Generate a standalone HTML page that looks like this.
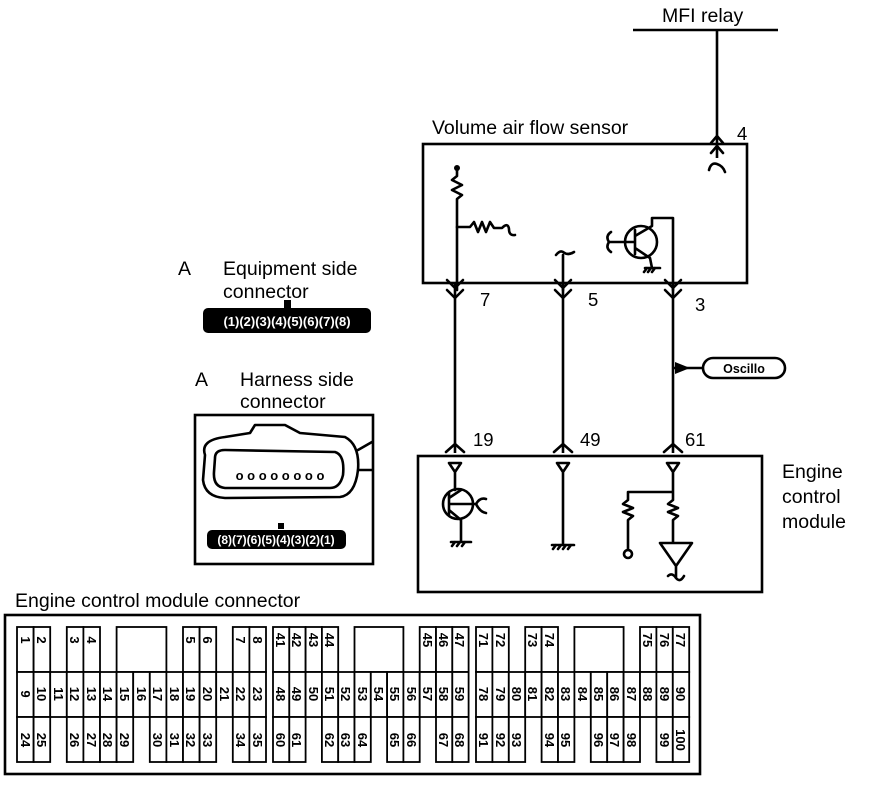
<!DOCTYPE html>
<html><head><meta charset="utf-8"><style>
html,body{margin:0;padding:0;background:#fff}
svg{display:block}
text{font-family:"Liberation Sans",Arial,sans-serif;fill:#000}
.n{font-size:13px;font-weight:bold}
.c{fill:#fff;stroke:#000;stroke-width:1.8}
.w{stroke:#000;stroke-width:2.6;fill:none}
.t{stroke:#000;stroke-width:2.6;fill:none;stroke-linecap:round;stroke-linejoin:round}
</style></head><body>
<svg width="880" height="790" viewBox="0 0 880 790" xmlns="http://www.w3.org/2000/svg">
<text x="662" y="22" font-size="19.5">MFI relay</text>
<line x1="633" y1="30" x2="778" y2="30" class="w" stroke-width="3"/>
<line x1="717" y1="30" x2="717" y2="158" class="w"/>
<path d="M711 143 L717 136 L723 143 M711 153 L717 146 L723 153 M709 170 Q711 162 717 164 Q723 166 725 172" class="t"/>
<text x="737" y="140" font-size="18.5">4</text>

<text x="432" y="134" font-size="19.5">Volume air flow sensor</text>
<rect x="423" y="144" width="324" height="139" class="w"/>
<circle cx="457" cy="168" r="3" fill="#000"/>
<path d="M457 170 L457 176 L452 180 L462 185 L452 190 L462 195 L457 199 L457 290" class="t"/>
<path d="M457 227 L470 227 L474 222 L478 232 L482 222 L486 232 L490 222 L494 228 L502 228 Q508 222 509 229 Q509 236 515 235" class="t"/>
<path d="M563 290 L563 255 M556 255 Q560 250 563 252 Q568 256 574 252" class="t"/>
<circle cx="641" cy="242" r="16" class="t"/>
<path d="M609 242 L635 242 M635 230 L635 254 M635 236 L652 226 L652 218 L673 218 L673 290 M635 248 L650 258 L652 268 M645 268 L660 268 M647 268 L644 272 M651 268 L648 272 M655 268 L652 272 M609 242 Q605 236 611 232 M609 242 Q605 248 611 252" class="t"/>
<path d="M447 280 L455 288 L463 280 M447 290 L455 298 L463 290" class="t"/>
<path d="M555 280 L563 288 L571 280 M555 290 L563 298 L571 290" class="t"/>
<path d="M665 290 L673 298 L681 290 M665 280 L673 288 L681 280" class="t"/>
<text x="480" y="306" font-size="18.5">7</text>
<text x="588" y="306" font-size="18.5">5</text>
<text x="695" y="311" font-size="18.5">3</text>
<line x1="455" y1="283" x2="455" y2="453" class="w"/>
<line x1="563" y1="283" x2="563" y2="453" class="w"/>
<line x1="673" y1="283" x2="673" y2="453" class="w"/>
<path d="M675 362 L690 368 L675 374 Z" fill="#000"/>
<line x1="673" y1="368" x2="703" y2="368" class="w"/>
<rect x="703" y="358" width="82" height="20" rx="10" class="w"/>
<text x="744" y="373" font-size="12.5" font-weight="bold" text-anchor="middle">Oscillo</text>
<path d="M446 452 L455 444 L464 452 M554 452 L563 444 L572 452 M664 452 L673 444 L682 452" class="t"/>
<text x="473" y="446" font-size="18.5">19</text>
<text x="580" y="446" font-size="18.5">49</text>
<text x="685" y="446" font-size="18.5">61</text>
<rect x="418" y="456" width="344" height="136" class="w"/>
<text x="782" y="478" font-size="19.5">Engine</text>
<text x="782" y="503" font-size="19.5">control</text>
<text x="782" y="528" font-size="19.5">module</text>
<path d="M449 463 L461 463 L455 472 Z M455 472 L455 490 M449 493 L449 515 M449 498 L461 490 M449 510 L461 520 L461 542 M451 542 L471 542 M455 542 L452 546 M460 542 L457 546 M465 542 L462 546 M449 504 L476 504 M476 504 Q480 497 486 499 M476 504 Q480 512 486 513" class="t"/>
<circle cx="458" cy="504" r="15" class="t"/>
<path d="M557 463 L569 463 L563 472 Z M563 472 L563 545 M552 545 L574 545 M556 545 L553 549 M561 545 L558 549 M566 545 L563 549 M571 545 L568 549" class="t"/>
<path d="M667 463 L679 463 L673 472 Z M673 472 L673 492 L628 492 L628 500 L623 504 L633 508 L623 512 L633 516 L628 520 L628 550 M673 492 L673 500 L668 504 L678 508 L668 512 L678 516 L673 520 L673 543 M660 543 L692 543 L676 566 Z M676 566 L676 578 Q672 572 668 576 M676 578 Q680 583 684 576" class="t"/>
<circle cx="628" cy="554" r="4" class="t"/>

<text x="178" y="275" font-size="19.5">A</text>
<text x="223" y="275" font-size="19.5">Equipment side</text>
<text x="223" y="298" font-size="19.5">connector</text>
<rect x="284" y="300" width="7" height="8" fill="#000"/>
<rect x="203" y="308" width="168" height="25" rx="5" fill="#000"/>
<text x="287" y="326" font-size="13" font-weight="bold" text-anchor="middle" style="fill:#fff">(1)(2)(3)(4)(5)(6)(7)(8)</text>

<text x="195" y="386" font-size="19.5">A</text>
<text x="240" y="386" font-size="19.5">Harness side</text>
<text x="240" y="408" font-size="19.5">connector</text>
<rect x="195" y="415" width="178" height="149" class="w"/>
<path d="M205 455 Q200 440 225 437 L250 433 L255 425 L285 425 L300 433 L345 437 Q360 445 358 470 Q355 495 340 497 L225 498 Q205 497 203 480 Z" class="t"/>
<path d="M215 458 Q215 450 225 450 L335 452 Q345 455 343 475 Q340 488 330 488 L225 488 Q213 487 214 472 Z" class="t"/>
<path d="M358 450 L372 442 M358 470 L372 470" class="t"/>
<text x="280" y="480" font-size="13" font-weight="bold" text-anchor="middle">o o o o o o o o</text>
<rect x="278" y="523" width="6" height="6" fill="#000"/>
<rect x="207" y="530" width="139" height="19" rx="5" fill="#000"/>
<text x="276" y="544" font-size="12" font-weight="bold" text-anchor="middle" style="fill:#fff">(8)(7)(6)(5)(4)(3)(2)(1)</text>

<text x="15" y="607" font-size="19.5">Engine control module connector</text>
<rect x="5" y="615" width="695" height="159" class="w" stroke-width="3"/>
<g class="n">
<rect class="c" x="17" y="627" width="16.6" height="45"/><text transform="translate(21,640) rotate(90)" text-anchor="middle">1</text>
<rect class="c" x="33.6" y="627" width="16.6" height="45"/><text transform="translate(37,640) rotate(90)" text-anchor="middle">2</text>
<rect class="c" x="66.8" y="627" width="16.6" height="45"/><text transform="translate(70,640) rotate(90)" text-anchor="middle">3</text>
<rect class="c" x="83.4" y="627" width="16.6" height="45"/><text transform="translate(87,640) rotate(90)" text-anchor="middle">4</text>
<rect class="c" x="116.6" y="627" width="49.8" height="45"/>
<rect class="c" x="183" y="627" width="16.6" height="45"/><text transform="translate(186,640) rotate(90)" text-anchor="middle">5</text>
<rect class="c" x="199.6" y="627" width="16.6" height="45"/><text transform="translate(203,640) rotate(90)" text-anchor="middle">6</text>
<rect class="c" x="232.8" y="627" width="16.6" height="45"/><text transform="translate(236,640) rotate(90)" text-anchor="middle">7</text>
<rect class="c" x="249.4" y="627" width="16.6" height="45"/><text transform="translate(253,640) rotate(90)" text-anchor="middle">8</text>
<rect class="c" x="17" y="672" width="16.6" height="45"/><text transform="translate(21,694) rotate(90)" text-anchor="middle">9</text>
<rect class="c" x="33.6" y="672" width="16.6" height="45"/><text transform="translate(37,694) rotate(90)" text-anchor="middle">10</text>
<rect class="c" x="50.2" y="672" width="16.6" height="45"/><text transform="translate(54,694) rotate(90)" text-anchor="middle">11</text>
<rect class="c" x="66.8" y="672" width="16.6" height="45"/><text transform="translate(70,694) rotate(90)" text-anchor="middle">12</text>
<rect class="c" x="83.4" y="672" width="16.6" height="45"/><text transform="translate(87,694) rotate(90)" text-anchor="middle">13</text>
<rect class="c" x="100" y="672" width="16.6" height="45"/><text transform="translate(103,694) rotate(90)" text-anchor="middle">14</text>
<rect class="c" x="116.6" y="672" width="16.6" height="45"/><text transform="translate(120,694) rotate(90)" text-anchor="middle">15</text>
<rect class="c" x="133.2" y="672" width="16.6" height="45"/><text transform="translate(137,694) rotate(90)" text-anchor="middle">16</text>
<rect class="c" x="149.8" y="672" width="16.6" height="45"/><text transform="translate(153,694) rotate(90)" text-anchor="middle">17</text>
<rect class="c" x="166.4" y="672" width="16.6" height="45"/><text transform="translate(170,694) rotate(90)" text-anchor="middle">18</text>
<rect class="c" x="183" y="672" width="16.6" height="45"/><text transform="translate(186,694) rotate(90)" text-anchor="middle">19</text>
<rect class="c" x="199.6" y="672" width="16.6" height="45"/><text transform="translate(203,694) rotate(90)" text-anchor="middle">20</text>
<rect class="c" x="216.2" y="672" width="16.6" height="45"/><text transform="translate(220,694) rotate(90)" text-anchor="middle">21</text>
<rect class="c" x="232.8" y="672" width="16.6" height="45"/><text transform="translate(236,694) rotate(90)" text-anchor="middle">22</text>
<rect class="c" x="249.4" y="672" width="16.6" height="45"/><text transform="translate(253,694) rotate(90)" text-anchor="middle">23</text>
<rect class="c" x="17" y="717" width="16.6" height="45"/><text transform="translate(21,740) rotate(90)" text-anchor="middle">24</text>
<rect class="c" x="33.6" y="717" width="16.6" height="45"/><text transform="translate(37,740) rotate(90)" text-anchor="middle">25</text>
<rect class="c" x="66.8" y="717" width="16.6" height="45"/><text transform="translate(70,740) rotate(90)" text-anchor="middle">26</text>
<rect class="c" x="83.4" y="717" width="16.6" height="45"/><text transform="translate(87,740) rotate(90)" text-anchor="middle">27</text>
<rect class="c" x="100" y="717" width="16.6" height="45"/><text transform="translate(103,740) rotate(90)" text-anchor="middle">28</text>
<rect class="c" x="116.6" y="717" width="16.6" height="45"/><text transform="translate(120,740) rotate(90)" text-anchor="middle">29</text>
<rect class="c" x="149.8" y="717" width="16.6" height="45"/><text transform="translate(153,740) rotate(90)" text-anchor="middle">30</text>
<rect class="c" x="166.4" y="717" width="16.6" height="45"/><text transform="translate(170,740) rotate(90)" text-anchor="middle">31</text>
<rect class="c" x="183" y="717" width="16.6" height="45"/><text transform="translate(186,740) rotate(90)" text-anchor="middle">32</text>
<rect class="c" x="199.6" y="717" width="16.6" height="45"/><text transform="translate(203,740) rotate(90)" text-anchor="middle">33</text>
<rect class="c" x="232.8" y="717" width="16.6" height="45"/><text transform="translate(236,740) rotate(90)" text-anchor="middle">34</text>
<rect class="c" x="249.4" y="717" width="16.6" height="45"/><text transform="translate(253,740) rotate(90)" text-anchor="middle">35</text>

<rect class="c" x="273" y="627" width="16.3" height="45"/><text transform="translate(276,640) rotate(90)" text-anchor="middle">41</text>
<rect class="c" x="289.3" y="627" width="16.3" height="45"/><text transform="translate(292,640) rotate(90)" text-anchor="middle">42</text>
<rect class="c" x="305.6" y="627" width="16.3" height="45"/><text transform="translate(309,640) rotate(90)" text-anchor="middle">43</text>
<rect class="c" x="321.9" y="627" width="16.3" height="45"/><text transform="translate(325,640) rotate(90)" text-anchor="middle">44</text>
<rect class="c" x="354.5" y="627" width="48.9" height="45"/>
<rect class="c" x="419.7" y="627" width="16.3" height="45"/><text transform="translate(423,640) rotate(90)" text-anchor="middle">45</text>
<rect class="c" x="436" y="627" width="16.3" height="45"/><text transform="translate(439,640) rotate(90)" text-anchor="middle">46</text>
<rect class="c" x="452.3" y="627" width="16.3" height="45"/><text transform="translate(455,640) rotate(90)" text-anchor="middle">47</text>
<rect class="c" x="273" y="672" width="16.3" height="45"/><text transform="translate(276,694) rotate(90)" text-anchor="middle">48</text>
<rect class="c" x="289.3" y="672" width="16.3" height="45"/><text transform="translate(292,694) rotate(90)" text-anchor="middle">49</text>
<rect class="c" x="305.6" y="672" width="16.3" height="45"/><text transform="translate(309,694) rotate(90)" text-anchor="middle">50</text>
<rect class="c" x="321.9" y="672" width="16.3" height="45"/><text transform="translate(325,694) rotate(90)" text-anchor="middle">51</text>
<rect class="c" x="338.2" y="672" width="16.3" height="45"/><text transform="translate(341,694) rotate(90)" text-anchor="middle">52</text>
<rect class="c" x="354.5" y="672" width="16.3" height="45"/><text transform="translate(358,694) rotate(90)" text-anchor="middle">53</text>
<rect class="c" x="370.8" y="672" width="16.3" height="45"/><text transform="translate(374,694) rotate(90)" text-anchor="middle">54</text>
<rect class="c" x="387.1" y="672" width="16.3" height="45"/><text transform="translate(390,694) rotate(90)" text-anchor="middle">55</text>
<rect class="c" x="403.4" y="672" width="16.3" height="45"/><text transform="translate(407,694) rotate(90)" text-anchor="middle">56</text>
<rect class="c" x="419.7" y="672" width="16.3" height="45"/><text transform="translate(423,694) rotate(90)" text-anchor="middle">57</text>
<rect class="c" x="436" y="672" width="16.3" height="45"/><text transform="translate(439,694) rotate(90)" text-anchor="middle">58</text>
<rect class="c" x="452.3" y="672" width="16.3" height="45"/><text transform="translate(455,694) rotate(90)" text-anchor="middle">59</text>
<rect class="c" x="273" y="717" width="16.3" height="45"/><text transform="translate(276,740) rotate(90)" text-anchor="middle">60</text>
<rect class="c" x="289.3" y="717" width="16.3" height="45"/><text transform="translate(292,740) rotate(90)" text-anchor="middle">61</text>
<rect class="c" x="321.9" y="717" width="16.3" height="45"/><text transform="translate(325,740) rotate(90)" text-anchor="middle">62</text>
<rect class="c" x="338.2" y="717" width="16.3" height="45"/><text transform="translate(341,740) rotate(90)" text-anchor="middle">63</text>
<rect class="c" x="354.5" y="717" width="16.3" height="45"/><text transform="translate(358,740) rotate(90)" text-anchor="middle">64</text>
<rect class="c" x="387.1" y="717" width="16.3" height="45"/><text transform="translate(390,740) rotate(90)" text-anchor="middle">65</text>
<rect class="c" x="403.4" y="717" width="16.3" height="45"/><text transform="translate(407,740) rotate(90)" text-anchor="middle">66</text>
<rect class="c" x="436" y="717" width="16.3" height="45"/><text transform="translate(439,740) rotate(90)" text-anchor="middle">67</text>
<rect class="c" x="452.3" y="717" width="16.3" height="45"/><text transform="translate(455,740) rotate(90)" text-anchor="middle">68</text>

<rect class="c" x="476" y="627" width="16.4" height="45"/><text transform="translate(479,640) rotate(90)" text-anchor="middle">71</text>
<rect class="c" x="492.4" y="627" width="16.4" height="45"/><text transform="translate(496,640) rotate(90)" text-anchor="middle">72</text>
<rect class="c" x="525.2" y="627" width="16.4" height="45"/><text transform="translate(528,640) rotate(90)" text-anchor="middle">73</text>
<rect class="c" x="541.6" y="627" width="16.4" height="45"/><text transform="translate(545,640) rotate(90)" text-anchor="middle">74</text>
<rect class="c" x="574.4" y="627" width="49.2" height="45"/>
<rect class="c" x="640" y="627" width="16.4" height="45"/><text transform="translate(643,640) rotate(90)" text-anchor="middle">75</text>
<rect class="c" x="656.4" y="627" width="16.4" height="45"/><text transform="translate(660,640) rotate(90)" text-anchor="middle">76</text>
<rect class="c" x="672.8" y="627" width="16.4" height="45"/><text transform="translate(676,640) rotate(90)" text-anchor="middle">77</text>
<rect class="c" x="476" y="672" width="16.4" height="45"/><text transform="translate(479,694) rotate(90)" text-anchor="middle">78</text>
<rect class="c" x="492.4" y="672" width="16.4" height="45"/><text transform="translate(496,694) rotate(90)" text-anchor="middle">79</text>
<rect class="c" x="508.8" y="672" width="16.4" height="45"/><text transform="translate(512,694) rotate(90)" text-anchor="middle">80</text>
<rect class="c" x="525.2" y="672" width="16.4" height="45"/><text transform="translate(528,694) rotate(90)" text-anchor="middle">81</text>
<rect class="c" x="541.6" y="672" width="16.4" height="45"/><text transform="translate(545,694) rotate(90)" text-anchor="middle">82</text>
<rect class="c" x="558" y="672" width="16.4" height="45"/><text transform="translate(561,694) rotate(90)" text-anchor="middle">83</text>
<rect class="c" x="574.4" y="672" width="16.4" height="45"/><text transform="translate(578,694) rotate(90)" text-anchor="middle">84</text>
<rect class="c" x="590.8" y="672" width="16.4" height="45"/><text transform="translate(594,694) rotate(90)" text-anchor="middle">85</text>
<rect class="c" x="607.2" y="672" width="16.4" height="45"/><text transform="translate(610,694) rotate(90)" text-anchor="middle">86</text>
<rect class="c" x="623.6" y="672" width="16.4" height="45"/><text transform="translate(627,694) rotate(90)" text-anchor="middle">87</text>
<rect class="c" x="640" y="672" width="16.4" height="45"/><text transform="translate(643,694) rotate(90)" text-anchor="middle">88</text>
<rect class="c" x="656.4" y="672" width="16.4" height="45"/><text transform="translate(660,694) rotate(90)" text-anchor="middle">89</text>
<rect class="c" x="672.8" y="672" width="16.4" height="45"/><text transform="translate(676,694) rotate(90)" text-anchor="middle">90</text>
<rect class="c" x="476" y="717" width="16.4" height="45"/><text transform="translate(479,740) rotate(90)" text-anchor="middle">91</text>
<rect class="c" x="492.4" y="717" width="16.4" height="45"/><text transform="translate(496,740) rotate(90)" text-anchor="middle">92</text>
<rect class="c" x="508.8" y="717" width="16.4" height="45"/><text transform="translate(512,740) rotate(90)" text-anchor="middle">93</text>
<rect class="c" x="541.6" y="717" width="16.4" height="45"/><text transform="translate(545,740) rotate(90)" text-anchor="middle">94</text>
<rect class="c" x="558" y="717" width="16.4" height="45"/><text transform="translate(561,740) rotate(90)" text-anchor="middle">95</text>
<rect class="c" x="590.8" y="717" width="16.4" height="45"/><text transform="translate(594,740) rotate(90)" text-anchor="middle">96</text>
<rect class="c" x="607.2" y="717" width="16.4" height="45"/><text transform="translate(610,740) rotate(90)" text-anchor="middle">97</text>
<rect class="c" x="623.6" y="717" width="16.4" height="45"/><text transform="translate(627,740) rotate(90)" text-anchor="middle">98</text>
<rect class="c" x="656.4" y="717" width="16.4" height="45"/><text transform="translate(660,740) rotate(90)" text-anchor="middle">99</text>
<rect class="c" x="672.8" y="717" width="16.4" height="45"/><text transform="translate(676,740) rotate(90)" text-anchor="middle">100</text>
</g>
</svg>
</body></html>
